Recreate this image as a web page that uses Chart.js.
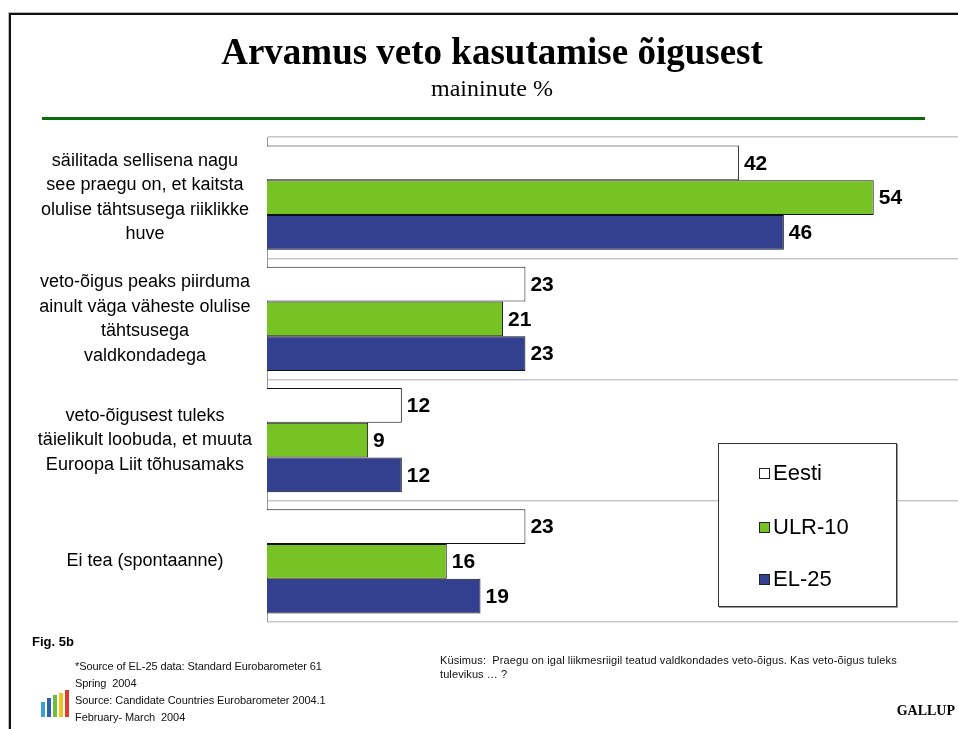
<!DOCTYPE html>
<html>
<head>
<meta charset="utf-8">
<script src="https://cdn.jsdelivr.net/npm/chart.js@4.4.1/dist/chart.umd.min.js"></script>
<style>
    body { margin: 0; background: #fff; }
    #page { position: relative; width: 958px; height: 729px; overflow: hidden; background: #fff; font-family: "Liberation Sans", Arial, sans-serif; }
    #frame { position: absolute; left: 9px; top: 13px; width: 1000px; height: 800px; border-left: 2px solid #111; border-top: 2px solid #111; box-shadow: -1px -1px 0 #bbb; }
    #graf { position: absolute; left: 0; top: 0; }
    .abs { position: absolute; white-space: nowrap; }
    #titulo { left: 0; width: 984px; top: 30px; text-align: center; font-family: "Liberation Serif", "Times New Roman", serif; font-weight: bold; font-size: 37px; }
    #subtitulo { left: 0; width: 984px; top: 75px; text-align: center; font-family: "Liberation Serif", "Times New Roman", serif; font-size: 24px; }
    #linea { position: absolute; left: 42px; top: 117px; width: 883px; height: 3px; background: #0b6b0b; }
    #leyenda { position: absolute; left: 718px; top: 443px; width: 177px; height: 162px; background: #fff; border: 1px solid #333; box-shadow: 1px 1px 0 #999; }
    .item { position: absolute; left: 40px; font-size: 22px; line-height: 22px; }
    .item span { display: inline-block; width: 9px; height: 9px; border: 1px solid #222; margin-right: 3px; vertical-align: 1px; }
    #fig { left: 32px; top: 634px; font-size: 13px; font-weight: bold; }
    #fuente { left: 75px; top: 658px; font-size: 11px; line-height: 17px; letter-spacing: -0.08px; color: #111; }
    #pregunta { left: 440px; top: 653px; font-size: 11px; line-height: 14px; letter-spacing: 0.1px; color: #111; }
    #gallup { right: 3px; top: 703px; font-family: "Liberation Serif", "Times New Roman", serif; font-weight: bold; font-size: 14px; }
    .logo { position: absolute; width: 4px; }
</style>
</head>
<body>
<div id="page">
    <canvas id="graf" width="958" height="729"></canvas>
    <div id="frame"></div>
    <div class="abs" id="titulo">Arvamus veto kasutamise õigusest</div>
    <div class="abs" id="subtitulo">maininute %</div>
    <div id="linea"></div>
    <div id="leyenda">
        <div class="item" style="top:18px"><span style="background:#ffffff"></span>Eesti</div>
        <div class="item" style="top:72px"><span style="background:#77c225"></span>ULR-10</div>
        <div class="item" style="top:124px"><span style="background:#333f8f"></span>EL-25</div>
    </div>
    <div class="abs" id="fig">Fig. 5b</div>
    <div class="abs" id="fuente">*Source of EL-25 data: Standard Eurobarometer 61<br>Spring&nbsp; 2004<br>Source: Candidate Countries Eurobarometer 2004.1<br>February- March&nbsp; 2004</div>
    <div class="abs" id="pregunta">Küsimus:&nbsp; Praegu on igal liikmesriigil teatud valdkondades veto-õigus. Kas veto-õigus tuleks<br>tulevikus … ?</div>
    <div class="abs" id="gallup">GALLUP</div>
    <div class="logo" style="left:41px;top:702px;height:15px;background:#3aa0dc"></div>
    <div class="logo" style="left:47px;top:698px;height:19px;background:#2c5fb0"></div>
    <div class="logo" style="left:53px;top:695px;height:22px;background:#6cbf3a"></div>
    <div class="logo" style="left:59px;top:693px;height:24px;background:#f2c21b"></div>
    <div class="logo" style="left:65px;top:690px;height:27px;background:#e23a2a"></div>
</div>
<script>
let categorias = [
    ['säilitada sellisena nagu', 'see praegu on, et kaitsta', 'olulise tähtsusega riiklikke', 'huve'],
    ['veto-õigus peaks piirduma', 'ainult väga väheste olulise', 'tähtsusega', 'valdkondadega'],
    ['veto-õigusest tuleks', 'täielikult loobuda, et muuta', 'Euroopa Liit tõhusamaks'],
    ['Ei tea (spontaanne)']
];
let eesti = [42, 23, 12, 23];
let ulr10 = [54, 21, 9, 16];
let el25 = [46, 23, 12, 19];

// etiquetas de valor al final de cada barra
let etiquetas = {
    id: 'etiquetas',
    afterDatasetsDraw(chart) {
        let ctx = chart.ctx;
        ctx.save();
        ctx.font = 'bold 21px "Liberation Sans", Arial, sans-serif';
        ctx.fillStyle = '#000';
        ctx.textAlign = 'left';
        ctx.textBaseline = 'middle';
        chart.data.datasets.forEach(function(ds, i) {
            chart.getDatasetMeta(i).data.forEach(function(bar, j) {
                ctx.fillText(ds.data[j], bar.x + 5, bar.y + 1);
            });
        });
        ctx.restore();
    }
};

let graf = new Chart(document.getElementById('graf'), {
    type: 'bar',
    data: {
        labels: categorias,
        datasets: [
            { label: 'Eesti', data: eesti, backgroundColor: '#ffffff' },
            { label: 'ULR-10', data: ulr10, backgroundColor: '#77c225' },
            { label: 'EL-25', data: el25, backgroundColor: '#333f8f' }
        ]
    },
    options: {
        indexAxis: 'y',
        responsive: false,
        animation: false,
        datasets: {
            bar: {
                borderColor: '#111',
                borderWidth: 1,
                borderSkipped: 'start',
                categoryPercentage: 0.86,
                barPercentage: 1
            }
        },
        layout: { padding: { top: 137, bottom: 107, left: 0, right: 0 } },
        plugins: { legend: { display: false }, tooltip: { enabled: false } },
        scales: {
            x: { display: false, min: 0, max: 61.5 },
            y: {
                afterFit: function(scale) { scale.width = 267; },
                grid: { color: '#c8c8c8', lineWidth: 1.5, drawTicks: false },
                border: { color: '#999', width: 1 },
                ticks: {
                    crossAlign: 'center',
                    padding: 15,
                    color: '#000',
                    font: { family: '"Liberation Sans", Arial, sans-serif', size: 18, lineHeight: 1.36 }
                }
            }
        }
    },
    plugins: [etiquetas]
});
</script>
</body>
</html>
